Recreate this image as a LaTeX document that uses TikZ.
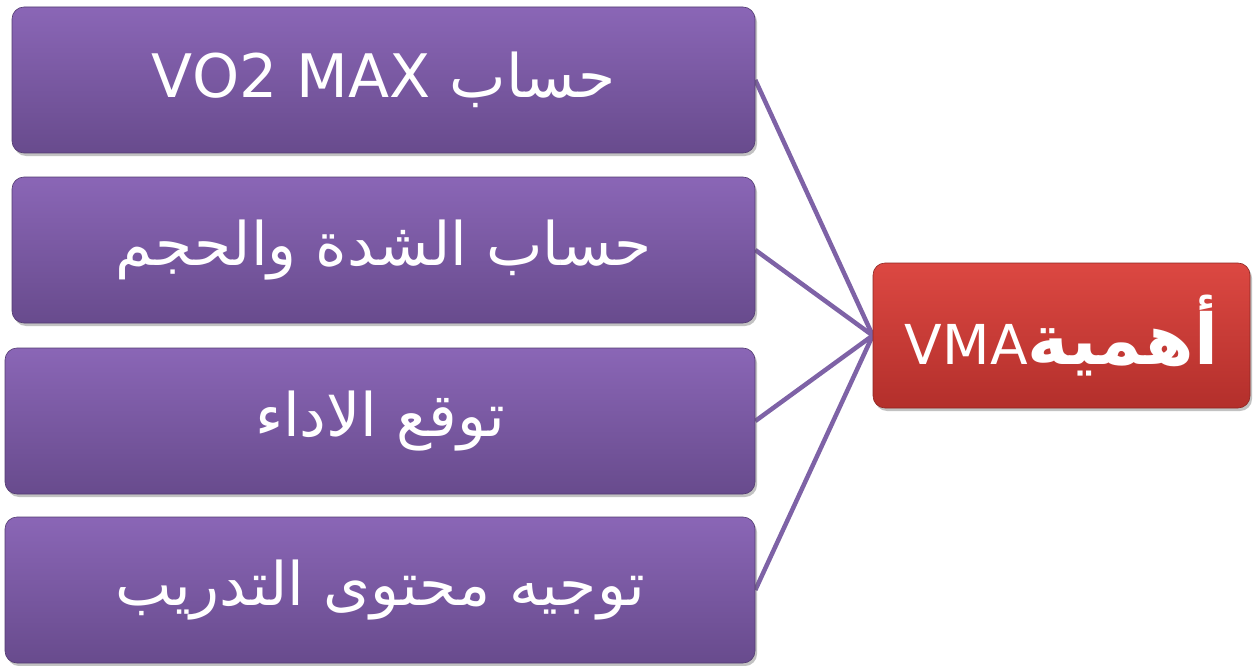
\documentclass[tikz,border=0pt]{standalone}
\usepackage{fontspec}
\setmainfont{DejaVu Sans}
\newfontfamily\arabicfont[Script=Arabic]{DejaVu Sans}
\TeXXeTstate=1
\usetikzlibrary{shadows,backgrounds}
\definecolor{purpTop}{HTML}{8A66B6}
\definecolor{purpBot}{HTML}{684B8D}
\definecolor{redTop}{HTML}{DC4842}
\definecolor{redBot}{HTML}{B32F2B}
\definecolor{linkCol}{HTML}{7E62A6}
\begin{document}
\begin{tikzpicture}[x=1pt,y=-1pt,
  pbox/.style={rectangle, rounded corners=12pt, top color=purpTop, bottom color=purpBot,
    draw=purpBot!80!black, line width=0.6pt, minimum height=146pt, inner sep=0pt,
    drop shadow={shadow xshift=2pt, shadow yshift=-3pt, opacity=0.4, fill=black!60},
    text=white, font=\arabicfont\fontsize{60}{70}\selectfont},
  rbox/.style={rectangle, rounded corners=12pt, top color=redTop, bottom color=redBot,
    draw=redBot!80!black, line width=0.6pt, minimum width=377pt, minimum height=145pt, inner sep=0pt,
    drop shadow={shadow xshift=2pt, shadow yshift=-3pt, opacity=0.4, fill=black!60},
    text=white},
  link/.style={draw=linkCol, line width=4.5pt}]
\useasboundingbox (0,0) rectangle (1258,666);
\node[pbox, minimum width=743pt] (b1) at (383.5,80) {\beginR حساب \beginL VO2 MAX\endL\endR};
\node[pbox, minimum width=743pt] (b2) at (383.5,250) {\beginR حساب الشدة والحجم\endR};
\node[pbox, minimum width=750pt] (b3) at (380,421) {\beginR توقع الاداء\endR};
\node[pbox, minimum width=750pt] (b4) at (380,590) {\beginR توجيه محتوى التدريب\endR};
\node[rbox] (r) at (1061.5,335.5) {\arabicfont\beginR{\fontsize{70}{70}\selectfont\bfseries أهمية}\beginL{\fontsize{55}{70}\selectfont VMA}\endL\endR};
\begin{scope}[on background layer]
\draw[link] (b1.east) -- (r.west);
\draw[link] (b2.east) -- (r.west);
\draw[link] (b3.east) -- (r.west);
\draw[link] (b4.east) -- (r.west);
\end{scope}
\end{tikzpicture}
\end{document}
